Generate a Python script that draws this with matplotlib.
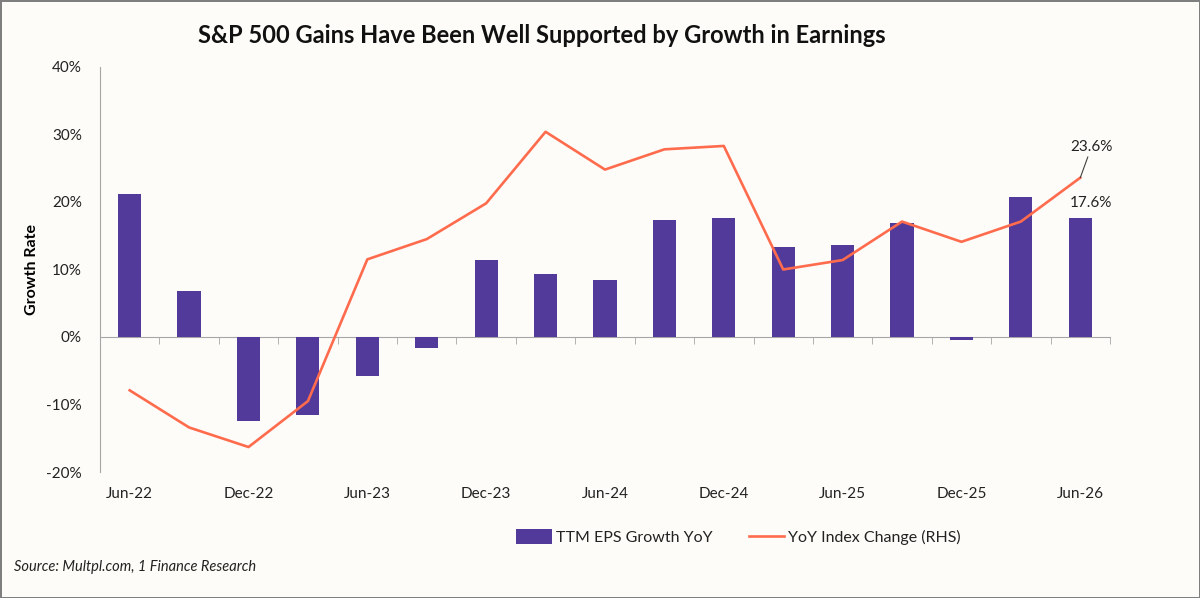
import matplotlib
matplotlib.use("Agg")
from matplotlib import pyplot
from matplotlib.ticker import FuncFormatter, FixedLocator
import numpy as np

periods = ["Jun-22", "Sep-22", "Dec-22", "Mar-23", "Jun-23", "Sep-23", "Dec-23", "Mar-24",
           "Jun-24", "Sep-24", "Dec-24", "Mar-25", "Jun-25", "Sep-25", "Dec-25", "Mar-26", "Jun-26"]
eps_growth = [21.2, 6.8, -12.5, -11.6, -5.8, -1.6, 11.4, 9.4, 8.4, 17.4, 17.6, 13.3, 13.7, 16.9, -0.4, 20.8, 17.6]
index_change = [-7.9, -13.4, -16.3, -9.5, 11.5, 14.5, 19.8, 30.4, 24.8, 27.8, 28.3, 10.0, 11.4, 17.1, 14.1, 17.1, 23.6]

bar_color = '#523A9A'
line_color = '#FF6B4D'
bg = '#FDFCF8'
font = 'Lato'

pyplot.rcParams['font.family'] = [font, 'DejaVu Sans']

fig = pyplot.figure(figsize=(12, 5.98), dpi=100, facecolor=bg)
fig.patch.set_edgecolor('#7F7F7F')
fig.patch.set_linewidth(2)
ax = fig.add_axes([0.0833, 0.2107, 0.8417, 0.6773])
ax.set_facecolor(bg)

x = np.arange(len(periods))
bars = ax.bar(x, eps_growth, width=0.39, color=bar_color, label='TTM EPS Growth YoY', zorder=2)
line, = ax.plot(x, index_change, color=line_color, linewidth=1.9, label='YoY Index Change (RHS)', zorder=3)

ax.set_xlim(-0.5, len(periods) - 0.5)
ax.set_ylim(-20, 40)
ax.set_yticks(range(-20, 41, 10))
ax.yaxis.set_major_formatter(FuncFormatter(lambda v, p: '{:.0f}%'.format(v)))
ax.tick_params(axis='y', length=0, pad=13, labelsize=11, colors='#222222')

# x axis line at zero, ticks at category boundaries, labels at the bottom
for s in ['top', 'right']:
    ax.spines[s].set_visible(False)
ax.spines['left'].set_color('#A6A6A6')
ax.spines['bottom'].set_position(('data', 0))
ax.spines['bottom'].set_color('#A6A6A6')
ax.spines['bottom'].set_zorder(1)
ax.xaxis.set_minor_locator(FixedLocator(np.arange(0.5, len(periods), 1.0)))
ax.set_xticks(x[::2])
ax.set_xticklabels(periods[::2])
ax.tick_params(axis='x', which='minor', length=5, direction='out', color='#A6A6A6')
ax.tick_params(axis='x', which='major', length=0, pad=108, labelsize=11, colors='#222222')

ax.set_ylabel('Growth Rate', fontsize=11.5, fontweight='bold', labelpad=5)

# data labels for the last point
ax.annotate('{:.1f}%'.format(index_change[-1]), xy=(x[-1], index_change[-1]),
            xytext=(8, 17), textcoords='offset points', ha='center', va='bottom', fontsize=11,
            color='#222222', arrowprops=dict(arrowstyle='-', color='#404040', lw=0.8, shrinkA=0, shrinkB=0))
ax.annotate('{:.1f}%'.format(eps_growth[-1]), xy=(x[-1], eps_growth[-1]),
            xytext=(8, 6), textcoords='offset points', ha='center', va='bottom', fontsize=11,
            color='#222222')

fig.text(0.4515, 0.94, 'S&P 500 Gains Have Been Well Supported by Growth in Earnings',
         ha='center', va='center', fontsize=17, fontweight='bold', color='#111111')

leg = fig.legend([bars, line], ['TTM EPS Growth YoY', 'YoY Index Change (RHS)'],
                 loc='center', bbox_to_anchor=(0.6155, 0.102), ncol=2, frameon=False,
                 fontsize=11.5, handlelength=2.2, handleheight=1.1, columnspacing=2.3, handletextpad=0.25)
for t in leg.get_texts():
    t.set_color('#222222')

fig.text(0.012, 0.052, 'Source: Multpl.com, 1 Finance Research', fontsize=10.5, style='italic',
         ha='left', va='center', color='#222222')

pyplot.savefig('out.png', dpi=100, facecolor=bg, edgecolor=fig.patch.get_edgecolor())
